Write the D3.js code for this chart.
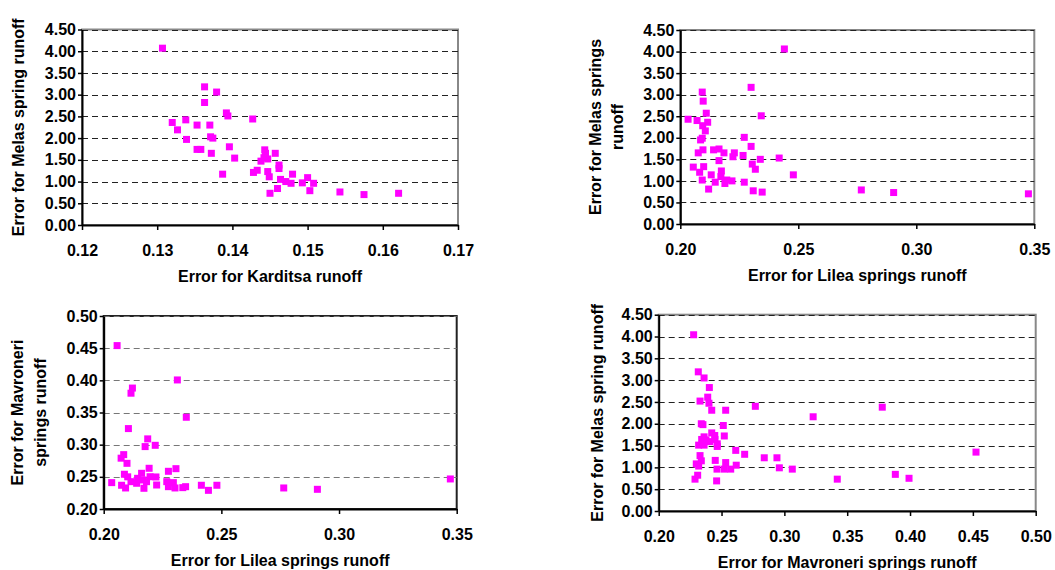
<!DOCTYPE html>
<html><head><meta charset="utf-8">
<script src="https://cdn.jsdelivr.net/npm/d3@7"></script>
<style>
html,body{margin:0;padding:0;background:#fff;}
svg text{font-family:"Liberation Sans",Arial,sans-serif;font-weight:bold;fill:#000;}
</style></head>
<body><svg id="c" width="1055" height="570"></svg>
<script>
// ---- Data ----
const p1Karditsa = [0.1307,0.1363,0.1379,0.1363,0.1392,0.1394,0.1427,0.1320,0.1338,0.1327,0.1353,0.1370,0.1339,0.1371,0.1374,0.1353,0.1358,0.1372,0.1396,0.1403,0.1387,0.1428,0.1433,0.1438,0.1443,0.1444,0.1447,0.1442,0.1457,0.1447,0.1449,0.1450,0.1460,0.1462,0.1462,0.1464,0.1471,0.1480,0.1478,0.1493,0.1500,0.1508,0.1503,0.1543,0.1575,0.1621];
const p1Melas    = [4.07,3.18,3.06,2.82,2.58,2.51,2.44,2.36,2.42,2.19,2.30,2.30,1.97,2.03,2.00,1.74,1.74,1.65,1.80,1.54,1.17,1.21,1.26,1.47,1.73,1.65,1.52,1.55,1.65,1.23,1.11,0.73,0.84,1.38,1.30,1.05,1.00,1.17,0.96,0.97,1.09,0.96,0.79,0.76,0.70,0.73];

const p2Lilea = [0.2441,0.2300,0.2093,0.2097,0.2110,0.2343,0.2033,0.2071,0.2116,0.2095,0.2106,0.2086,0.2093,0.2271,0.2300,0.2096,0.2076,0.2141,0.2164,0.2185,0.2229,0.2223,0.2266,0.2164,0.2339,0.2419,0.2055,0.2099,0.2305,0.2318,0.2479,0.2082,0.2131,0.2174,0.2172,0.2093,0.2148,0.2189,0.2197,0.2219,0.2271,0.2120,0.2309,0.2347,0.2767,0.2904,0.3475];
const p2Melas = [4.06,3.17,3.06,2.85,2.57,2.51,2.43,2.40,2.36,2.28,2.16,1.95,1.99,2.01,1.80,1.72,1.65,1.72,1.74,1.65,1.65,1.56,1.59,1.47,1.50,1.53,1.32,1.33,1.39,1.27,1.14,1.20,1.14,1.23,1.10,1.02,0.97,0.94,1.02,1.00,0.97,0.81,0.77,0.74,0.79,0.73,0.70];

const p3Lilea = [0.2057,0.2313,0.2122,0.2116,0.2351,0.2105,0.2187,0.2176,0.2219,0.2085,0.2074,0.2099,0.2275,0.2307,0.2193,0.2034,0.2076,0.2093,0.2088,0.2102,0.2116,0.2140,0.2144,0.2161,0.2168,0.2171,0.2182,0.2197,0.2222,0.2225,0.2268,0.2275,0.2296,0.2303,0.2336,0.2348,0.2415,0.2445,0.2481,0.2765,0.2908,0.3473];
const p3Mavroneri = [0.454,0.4006,0.388,0.380,0.3426,0.325,0.309,0.297,0.299,0.2845,0.279,0.271,0.2586,0.2627,0.2633,0.241,0.2369,0.2327,0.254,0.250,0.2425,0.240,0.2477,0.2555,0.2451,0.2322,0.2425,0.2502,0.2498,0.2373,0.2425,0.2347,0.241,0.2327,0.2332,0.2347,0.2369,0.229,0.2369,0.2327,0.2306,0.2467];

const p4Mavroneri = [0.2278,0.2315,0.2361,0.2403,0.2390,0.2400,0.2329,0.2422,0.2533,0.2769,0.3229,0.2339,0.2352,0.2514,0.2422,0.2446,0.2522,0.2361,0.2376,0.2342,0.2318,0.2361,0.2406,0.2466,0.2466,0.2448,0.2613,0.2684,0.2329,0.2339,0.2299,0.2318,0.2450,0.2533,0.2840,0.2941,0.2960,0.3063,0.2617,0.2464,0.2522,0.2573,0.2310,0.2289,0.2461,0.3779,0.4525,0.3421,0.3883,0.3992];
const p4Melas = [4.04,3.19,3.05,2.83,2.61,2.47,2.52,2.31,2.31,2.40,2.16,2.00,1.98,1.96,1.79,1.73,1.72,1.70,1.63,1.64,1.51,1.51,1.59,1.54,1.48,1.64,1.39,1.30,1.27,1.15,1.08,1.03,1.16,1.11,1.22,1.22,0.99,0.96,1.05,0.96,0.96,0.96,0.82,0.73,0.69,2.38,1.35,0.73,0.84,0.75];

const xTicksKarditsa = [0.12,0.13,0.14,0.15,0.16,0.17];
const xTicksLilea = [0.20,0.25,0.30,0.35];
const xTicksMavroneri = [0.20,0.25,0.30,0.35,0.40,0.45,0.50];
const yTicksMelas = [0,0.5,1,1.5,2,2.5,3,3.5,4,4.5];
const yTicksMavroneri = [0.20,0.25,0.30,0.35,0.40,0.45,0.50];

const titles = {
  p1x: ["Error for Karditsa runoff"], p1y: ["Error for Melas spring runoff"],
  p2x: ["Error for Lilea springs runoff"], p2y: ["Error for Melas springs", "runoff"],
  p3x: ["Error for Lilea springs runoff"], p3y: ["Error for Mavroneri", "springs runoff"],
  p4x: ["Error for Mavroneri springs runoff"], p4y: ["Error for Melas spring runoff"]
};

// ---- Layout ----
const panels = [
  {xs:p1Karditsa, ys:p1Melas, xd:[0.12,0.17], yd:[0,4.5], xt:xTicksKarditsa, yt:yTicksMelas,
   L:82, R:458, T:29.5, B:225, xt2:titles.p1x, yt2:titles.p1y, ytx:[18], grid:"#222", border:"#888"},
  {xs:p2Lilea, ys:p2Melas, xd:[0.20,0.35], yd:[0,4.5], xt:xTicksLilea, yt:yTicksMelas,
   L:680.3, R:1034.3, T:30, B:224, xt2:titles.p2x, yt2:titles.p2y, ytx:[595,617], grid:"#222", border:"#888"},
  {xs:p3Lilea, ys:p3Mavroneri, xd:[0.20,0.35], yd:[0.20,0.50], xt:xTicksLilea, yt:yTicksMavroneri,
   L:103.7, R:456.7, T:316, B:509, xt2:titles.p3x, yt2:titles.p3y, ytx:[17,40], grid:"#777", border:"#222"},
  {xs:p4Mavroneri, ys:p4Melas, xd:[0.20,0.50], yd:[0,4.5], xt:xTicksMavroneri, yt:yTicksMelas,
   L:658.7, R:1035.7, T:314.7, B:511, xt2:titles.p4x, yt2:titles.p4y, ytx:[597], grid:"#222", border:"#888"}
];

const svg = d3.select("#c");
const fmt = d3.format(".2f");
const FS = 16;

panels.forEach(p => {
  const x = d3.scaleLinear().domain(p.xd).range([p.L, p.R]);
  const y = d3.scaleLinear().domain(p.yd).range([p.B, p.T]);
  const g = svg.append("g");

  g.append("rect").attr("x", p.L).attr("y", p.T).attr("width", p.R - p.L).attr("height", p.B - p.T)
    .attr("fill", "none").attr("stroke", p.border).attr("stroke-width", 2);

  g.selectAll("line.grid").data(p.yt.filter(v => v !== p.yd[0])).join("line")
    .attr("x1", p.L).attr("x2", p.R)
    .attr("y1", d => Math.round(y(d)) + 0.5).attr("y2", d => Math.round(y(d)) + 0.5)
    .attr("stroke", p.grid).attr("stroke-width", 1).attr("stroke-dasharray", "6,4");

  g.selectAll("rect.pt").data(p.xs.map((v, i) => [v, p.ys[i]])).join("rect")
    .attr("x", d => x(d[0]) - 3.5).attr("y", d => y(d[1]) - 3.5)
    .attr("width", 7).attr("height", 7).attr("fill", "#FF00FF");

  const ax = g.append("g").attr("transform", `translate(0,${p.B})`)
    .call(d3.axisBottom(x).tickValues(p.xt).tickFormat(fmt).tickSize(5).tickSizeOuter(0));
  ax.select(".domain").attr("stroke", "#000").attr("stroke-width", 2);
  ax.selectAll(".tick line").attr("stroke", "#000").attr("stroke-width", 1.5);
  ax.selectAll(".tick text").attr("y", 31).attr("dy", null).style("font-size", FS + "px")
    .style("font-family", "'Liberation Sans',Arial,sans-serif").style("font-weight", "bold");

  const ay = g.append("g").attr("transform", `translate(${p.L},0)`)
    .call(d3.axisLeft(y).tickValues(p.yt).tickFormat(fmt).tickSize(4).tickPadding(2).tickSizeOuter(0));
  ay.select(".domain").attr("stroke", "#000").attr("stroke-width", 2);
  ay.selectAll(".tick line").attr("stroke", "#000").attr("stroke-width", 1.5);
  ay.selectAll(".tick text").style("font-size", FS + "px")
    .style("font-family", "'Liberation Sans',Arial,sans-serif").style("font-weight", "bold");

  g.append("text").attr("x", (p.L + p.R) / 2).attr("y", p.B + 57)
    .attr("text-anchor", "middle").style("font-size", FS + "px").text(p.xt2[0]);

  const cy = (p.T + p.B) / 2;
  p.yt2.forEach((t, i) => {
    g.append("text").attr("transform", `translate(${p.ytx[i]},${cy}) rotate(-90)`)
      .attr("text-anchor", "middle").attr("dominant-baseline", "central")
      .style("font-size", FS + "px").text(t);
  });
});
</script></body></html>
